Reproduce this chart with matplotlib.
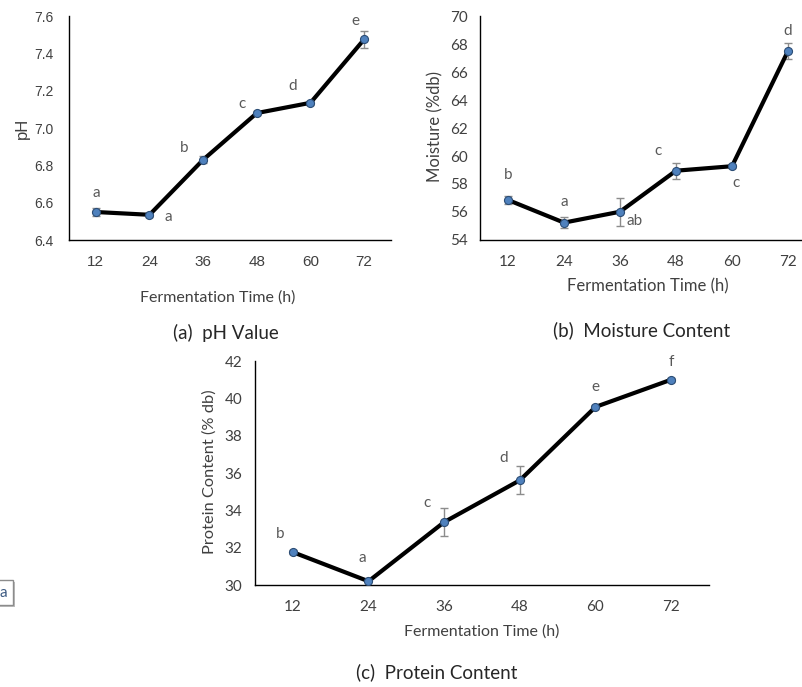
import matplotlib

matplotlib.use("Agg")
import matplotlib.pyplot as plt
from matplotlib.patches import Rectangle

plt.rcParams["font.family"] = ["Lato", "DejaVu Sans"]

# data
times = [12, 24, 36, 48, 60, 72]

ph_mean = [6.55, 6.535, 6.83, 7.08, 7.135, 7.475]
ph_err = [0.02, 0.012, 0.02, 0.01, 0.012, 0.047]
ph_letters = ["a", "a", "b", "c", "d", "e"]

moisture_mean = [56.86, 55.24, 56.02, 58.95, 59.27, 67.5]
moisture_err = [0.3, 0.4, 0.99, 0.58, 0.15, 0.54]
moisture_letters = ["b", "a", "ab", "c", "c", "d"]

protein_mean = [31.76, 30.2, 33.37, 35.61, 39.54, 41.0]
protein_err = [0.1, 0.06, 0.76, 0.75, 0.1, 0.1]
protein_letters = ["b", "a", "c", "d", "e", "f"]

# letter offsets in pixels (dx, dy) relative to the point
ph_offsets = [(0, 19), (19, -2), (-19, 12), (-15, 9), (-18, 17), (-9, 18)]
moisture_offsets = [(0, 25), (0, 21), (15, -9), (-18, 20), (4, -17), (0, 20)]
protein_offsets = [(-13, 18), (-6, 23), (-17, 19), (-16, 22), (0, 20), (0, 18)]

W, H = 803, 687
LINE_COLOR = "black"
MARKER_FACE = "#4f81bd"
MARKER_EDGE = "#2c4d75"
ERR_COLOR = "#8c8c8c"
LETTER_COLOR = "#595959"
TEXT_COLOR = "#404040"


def px_rect(left, top, right, bottom):
    return [left / W, 1 - bottom / H, (right - left) / W, (bottom - top) / H]


def draw_panel(ax, means, errs, letters, offsets, ylim, yticks, yfmt, tickfont, tickpad):
    xs = list(range(len(times)))
    ax.errorbar(xs, means, yerr=errs, fmt="none", ecolor=ERR_COLOR,
                elinewidth=1.0, capsize=3, capthick=1.0, zorder=2)
    ax.plot(xs, means, color=LINE_COLOR, linewidth=3.0, zorder=3,
            solid_capstyle="round")
    ax.plot(xs, means, linestyle="none", marker="o", markersize=5.8,
            markerfacecolor=MARKER_FACE, markeredgecolor=MARKER_EDGE,
            markeredgewidth=0.8, zorder=4)
    for x, y, lab, (dx, dy) in zip(xs, means, letters, offsets):
        ax.annotate(lab, (x, y), xytext=(dx, dy), textcoords="offset pixels",
                    ha="center", va="center", fontsize=11, color=LETTER_COLOR)
    ax.set_xlim(-0.5, len(times) - 0.5)
    ax.set_ylim(*ylim)
    ax.set_xticks(xs)
    ax.set_xticklabels([str(t) for t in times])
    ax.set_yticks(yticks)
    ax.set_yticklabels([yfmt.format(v) for v in yticks])
    for side in ("top", "right"):
        ax.spines[side].set_visible(False)
    for side in ("left", "bottom"):
        ax.spines[side].set_color("black")
        ax.spines[side].set_linewidth(1.0)
    ax.tick_params(length=0, pad=tickpad, labelsize=11, labelcolor=TEXT_COLOR)
    ax.tick_params(axis="x", pad=10.5)
    for lab in ax.get_xticklabels() + ax.get_yticklabels():
        lab.set_family(tickfont)
    ax.set_facecolor("none")


fig = plt.figure(figsize=(W / 100, H / 100), dpi=100)

# (a) pH
ax_a = fig.add_axes(px_rect(69, 16, 391, 240))
draw_panel(ax_a, ph_mean, ph_err, ph_letters, ph_offsets, (6.4, 7.6),
           [6.4, 6.6, 6.8, 7.0, 7.2, 7.4, 7.6], "{:.1f}", ["Liberation Sans"], 11)
for lab in ax_a.get_yticklabels():
    lab.set_fontsize(10)

# (b) moisture
ax_b = fig.add_axes(px_rect(480, 16, 816, 240))
draw_panel(ax_b, moisture_mean, moisture_err, moisture_letters, moisture_offsets,
           (54, 70), list(range(54, 71, 2)), "{:d}", ["Lato"], 9)

# (c) protein
ax_c = fig.add_axes(px_rect(255, 361, 709, 585))
draw_panel(ax_c, protein_mean, protein_err, protein_letters, protein_offsets,
           (30, 42), list(range(30, 43, 2)), "{:d}", ["Lato"], 9)


def ftext(x, y, s, **kw):
    kw.setdefault("ha", "center")
    kw.setdefault("va", "center")
    kw.setdefault("color", TEXT_COLOR)
    return fig.text(x / W, 1 - y / H, s, **kw)


# axis titles
ftext(22, 128, "pH", rotation=90, fontsize=12, family=["Liberation Sans"])
ftext(218, 298, "Fermentation Time (h)", fontsize=11.5)
ftext(435, 127, "Moisture (%db)", rotation=90, fontsize=12)
ftext(648, 286, "Fermentation Time (h)", fontsize=12)
ftext(210, 472, "Protein Content (% db)", rotation=90, fontsize=11.8)
ftext(482, 632, "Fermentation Time (h)", fontsize=11.5)

# panel captions
ftext(226, 333, "(a)  pH Value", fontsize=13.5, color="#262626")
ftext(642, 330, "(b)  Moisture Content", fontsize=13.5, color="#262626")
ftext(437, 672, "(c)  Protein Content", fontsize=13.5, color="#262626")

# stray label box at the left edge
fig.patches.append(Rectangle((-10 / W, 1 - 607 / H), 25 / W, 25 / H,
                             transform=fig.transFigure, facecolor="#bdbdbd",
                             edgecolor="none", zorder=1))
fig.patches.append(Rectangle((-12 / W, 1 - 605 / H), 25 / W, 25 / H,
                             transform=fig.transFigure, facecolor="white",
                             edgecolor="#8c8c8c", linewidth=1.0, zorder=2))
ftext(3, 593, "a", fontsize=11, color="#3c5a82", zorder=3)

fig.savefig("out.png", dpi=100)
